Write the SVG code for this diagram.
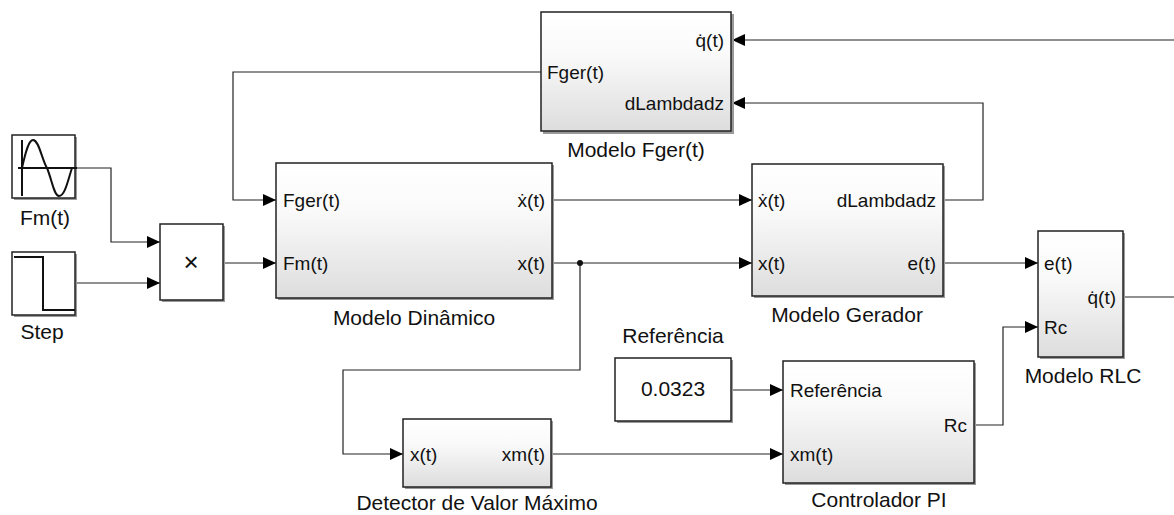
<svg xmlns="http://www.w3.org/2000/svg" width="1174" height="515" viewBox="0 0 1174 515">
  <defs>
    <linearGradient id="blockFill" x1="0" y1="0" x2="0" y2="1">
      <stop offset="0" stop-color="#ffffff"/>
      <stop offset="0.35" stop-color="#fafafa"/>
      <stop offset="1" stop-color="#dddddd"/>
    </linearGradient>
    <marker id="arrow" viewBox="0 0 13 12" refX="13" refY="6" markerWidth="13" markerHeight="12" markerUnits="userSpaceOnUse" orient="auto">
      <path d="M0,0 L13,6 L0,12 Z" fill="#000"/>
    </marker>
  </defs>
  <style>
    .shadow { fill: #9a9a9a; }
    .blk { fill: url(#blockFill); stroke: #222; stroke-width: 1.5; }
    .src { fill: #ffffff; stroke: #222; stroke-width: 1.5; }
    .wire { fill: none; stroke: #222; stroke-width: 1.2; marker-end: url(#arrow); }
    .wire-plain { fill: none; stroke: #222; stroke-width: 1.2; }
    .port { font-family: "Liberation Sans", Arial, sans-serif; font-size: 19px; fill: #111; }
    .r { text-anchor: end; }
    .lbl { font-family: "Liberation Sans", Arial, sans-serif; font-size: 21px; fill: #111; text-anchor: middle; }
    .glyph { fill: none; stroke: #111; stroke-width: 2; }
  </style>

  <rect width="1174" height="515" fill="#ffffff"/>

  <!-- signal lines -->
  <g id="connectors">
    <path class="wire" d="M1174,40 H732"/>
    <path class="wire" d="M943,200 H983 V103 H732"/>
    <path class="wire" d="M541,72 H233 V200 H276"/>
    <path class="wire" d="M75,168 H111 V242 H160"/>
    <path class="wire" d="M75,283 H160"/>
    <path class="wire" d="M223,263 H276"/>
    <path class="wire" d="M552,200 H752"/>
    <path class="wire" d="M552,263 H752"/>
    <path class="wire" d="M580,263 V370 H343 V454 H403"/>
    <circle cx="580" cy="263" r="3" fill="#111"/>
    <path class="wire" d="M943,263 H1038"/>
    <path class="wire-plain" d="M1123,297 H1174"/>
    <path class="wire" d="M731,390 H783"/>
    <path class="wire" d="M551,454 H783"/>
    <path class="wire" d="M974,425 H1003 V327 H1038"/>
  </g>

  <!-- Modelo Fger(t) -->
  <g id="modelo-fger">
    <rect class="shadow" x="543" y="14" width="191" height="120"/>
    <rect class="blk" x="541" y="12" width="190" height="119"/>
    <text class="port r" x="724" y="47">q̇(t)</text>
    <text class="port" x="547" y="79">Fger(t)</text>
    <text class="port r" x="724" y="110">dLambdadz</text>
    <text class="lbl" x="636" y="157">Modelo Fger(t)</text>
  </g>

  <!-- Fm(t) sine source -->
  <g id="fm-source">
    <rect class="shadow" x="14" y="137" width="63" height="63"/>
    <rect class="src" x="12" y="135" width="63" height="63"/>
    <path class="glyph" d="M22,140 V196 M18,168 H77"/>
    <path class="glyph" d="M22,168 C26,150 29,140 33,140 C39,140 42,160 47,168 C52,180 54,196 59,196 C65,196 68,180 72,168"/>
    <text class="lbl" x="45" y="225">Fm(t)</text>
  </g>

  <!-- Step source -->
  <g id="step-source">
    <rect class="shadow" x="14" y="254" width="63" height="63"/>
    <rect class="src" x="12" y="252" width="63" height="63"/>
    <path class="glyph" d="M14,257 H43 V310 H75"/>
    <text class="lbl" x="42" y="339">Step</text>
  </g>

  <!-- Product -->
  <g id="product">
    <rect class="shadow" x="162" y="226" width="63" height="76"/>
    <rect class="src" x="160" y="224" width="63" height="76"/>
    <text x="191" y="271" font-family="Liberation Sans, Arial, sans-serif" font-size="26" text-anchor="middle" fill="#111">×</text>
  </g>

  <!-- Modelo Dinâmico -->
  <g id="modelo-dinamico">
    <rect class="shadow" x="278" y="165" width="276" height="135"/>
    <rect class="blk" x="276" y="163" width="276" height="135"/>
    <text class="port" x="283" y="207">Fger(t)</text>
    <text class="port" x="283" y="270">Fm(t)</text>
    <text class="port r" x="545" y="207">ẋ(t)</text>
    <text class="port r" x="545" y="270">x(t)</text>
    <text class="lbl" x="414" y="325">Modelo Dinâmico</text>
  </g>

  <!-- Modelo Gerador -->
  <g id="modelo-gerador">
    <rect class="shadow" x="754" y="166" width="191" height="132"/>
    <rect class="blk" x="752" y="164" width="191" height="132"/>
    <text class="port" x="758" y="207">ẋ(t)</text>
    <text class="port" x="758" y="270">x(t)</text>
    <text class="port r" x="936" y="207">dLambdadz</text>
    <text class="port r" x="936" y="270">e(t)</text>
    <text class="lbl" x="847" y="322">Modelo Gerador</text>
  </g>

  <!-- Modelo RLC -->
  <g id="modelo-rlc">
    <rect class="shadow" x="1040" y="233" width="85" height="126"/>
    <rect class="blk" x="1038" y="231" width="85" height="126"/>
    <text class="port" x="1044" y="270">e(t)</text>
    <text class="port" x="1044" y="334">Rc</text>
    <text class="port r" x="1116" y="304">q̇(t)</text>
    <text class="lbl" x="1083" y="383">Modelo RLC</text>
  </g>

  <!-- Referência constant -->
  <g id="referencia">
    <text class="lbl" x="673" y="343">Referência</text>
    <rect class="shadow" x="617" y="360" width="116" height="63"/>
    <rect class="src" x="615" y="358" width="116" height="63"/>
    <text x="673" y="396" font-family="Liberation Sans, Arial, sans-serif" font-size="21" text-anchor="middle" fill="#111">0.0323</text>
  </g>

  <!-- Controlador PI -->
  <g id="controlador-pi">
    <rect class="shadow" x="785" y="363" width="191" height="122"/>
    <rect class="blk" x="783" y="361" width="191" height="122"/>
    <text class="port" x="790" y="397">Referência</text>
    <text class="port" x="790" y="461">xm(t)</text>
    <text class="port r" x="967" y="432">Rc</text>
    <text class="lbl" x="879" y="507">Controlador PI</text>
  </g>

  <!-- Detector de Valor Máximo -->
  <g id="detector">
    <rect class="shadow" x="405" y="421" width="148" height="68"/>
    <rect class="blk" x="403" y="419" width="148" height="68"/>
    <text class="port" x="410" y="461">x(t)</text>
    <text class="port r" x="545" y="461">xm(t)</text>
    <text class="lbl" x="477" y="510">Detector de Valor Máximo</text>
  </g>
</svg>
